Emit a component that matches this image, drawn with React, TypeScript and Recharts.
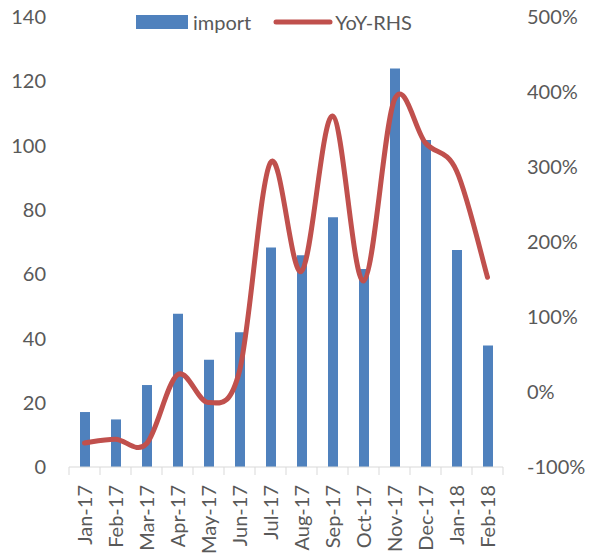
import { ComposedChart, Bar, Line, XAxis, YAxis } from 'recharts'

const months = ['Jan-17', 'Feb-17', 'Mar-17', 'Apr-17', 'May-17', 'Jun-17', 'Jul-17', 'Aug-17', 'Sep-17', 'Oct-17', 'Nov-17', 'Dec-17', 'Jan-18', 'Feb-18']
const importVals = [17.1, 14.8, 25.5, 47.7, 33.4, 41.9, 68.3, 65.9, 77.7, 61.6, 124, 101.7, 67.5, 37.8]
const yoyVals = [-0.68, -0.63, -0.69, 0.23, -0.14, 0.28, 3.06, 1.61, 3.68, 1.48, 3.9, 3.32, 2.95, 1.53]
const leftTicks = [0, 20, 40, 60, 80, 100, 120, 140]
const rightTicks = [-1, 0, 1, 2, 3, 4, 5]

const data = months.map((m, i) => ({ month: m, import: importVals[i], yoy: yoyVals[i] }))

const W = 595
const H = 558
const M = { top: 17, right: 0, bottom: 0, left: 0 }
const LEFT_W = 69
const RIGHT_W = 92
const AXIS_Y = 467
const PLOT_W = W - LEFT_W - RIGHT_W
const FONT = 'Lato, "Liberation Sans", sans-serif'
const TXT = '#595959'

// smooth line like Excel's (catmull-rom through the points)
// eslint-disable-next-line @typescript-eslint/no-explicit-any
const excelSmooth = (ctx: any) => {
  let pts: number[][] = []
  return {
    areaStart() {},
    areaEnd() {},
    lineStart() { pts = [] },
    point(x: number, y: number) { pts.push([+x, +y]) },
    lineEnd() {
      if (!pts.length) return
      ctx.moveTo(pts[0][0], pts[0][1])
      for (let i = 0; i < pts.length - 1; i++) {
        const p0 = pts[i - 1] || pts[i]
        const p1 = pts[i]
        const p2 = pts[i + 1]
        const p3 = pts[i + 2] || p2
        ctx.bezierCurveTo(
          p1[0] + (p2[0] - p0[0]) / 6, p1[1] + (p2[1] - p0[1]) / 6,
          p2[0] - (p3[0] - p1[0]) / 6, p2[1] - (p3[1] - p1[1]) / 6,
          p2[0], p2[1],
        )
      }
    },
  }
}

// eslint-disable-next-line @typescript-eslint/no-explicit-any
const MonthTick = (props: any) => {
  const { x, y, payload, index } = props
  const band = PLOT_W / months.length
  const axisY = y
  const ty = axisY + 18
  return (
    <g>
      <line x1={x - band / 2} y1={axisY} x2={x - band / 2} y2={axisY + 8} stroke="#d9d9d9" />
      {index === months.length - 1 && (
        <line x1={x + band / 2} y1={axisY} x2={x + band / 2} y2={axisY + 8} stroke="#d9d9d9" />
      )}
      <text
        x={x}
        y={ty}
        transform={`rotate(-90, ${x}, ${ty})`}
        textAnchor="end"
        dy="0.36em"
        fill={TXT}
        fontSize={20}
        fontFamily={FONT}
      >
        {payload.value}
      </text>
    </g>
  )
}

export default function App() {
  return (
    <div style={{ position: 'absolute', left: 0, top: 0, width: W, height: H, background: '#fff' }}>
      <ComposedChart width={W} height={H} data={data} margin={M}>
        <XAxis
          dataKey="month"
          axisLine={{ stroke: '#d9d9d9' }}
          tickLine={false}
          tickSize={0}
          tickMargin={0}
          interval={0}
          height={H - AXIS_Y}
          tick={<MonthTick />}
        />
        <YAxis
          yAxisId="left"
          domain={[0, 140]}
          ticks={leftTicks}
          width={LEFT_W}
          axisLine={false}
          tickLine={false}
          tickSize={0}
          tickMargin={23}
          tick={{ fill: TXT, fontSize: 20, fontFamily: FONT }}
        />
        <YAxis
          yAxisId="right"
          orientation="right"
          domain={[-1, 5]}
          ticks={rightTicks}
          width={RIGHT_W}
          axisLine={false}
          tickLine={false}
          tickSize={0}
          tickMargin={24}
          tickFormatter={(v: number) => `${Math.round(v * 100)}%`}
          tick={{ fill: TXT, fontSize: 20, fontFamily: FONT }}
        />
        <Bar yAxisId="left" dataKey="import" fill="#4f81bd" barSize={10} isAnimationActive={false} />
        <Line
          yAxisId="right"
          dataKey="yoy"
          type={excelSmooth}
          stroke="#c0504d"
          strokeWidth={5}
          strokeLinecap="round"
          dot={false}
          activeDot={false}
          isAnimationActive={false}
        />
      </ComposedChart>
      <div style={{ position: 'absolute', left: 136, top: 10, display: 'flex', alignItems: 'center', fontFamily: FONT, fontSize: 20, color: TXT, whiteSpace: 'nowrap' }}>
        <span style={{ display: 'inline-block', width: 52, height: 14, background: '#4f81bd', marginRight: 5 }} />
        <span>import</span>
        <svg width={60} height={10} style={{ marginLeft: 22, marginRight: 2 }}>
          <line x1={3} y1={5} x2={57} y2={5} stroke="#c0504d" strokeWidth={5} strokeLinecap="round" />
        </svg>
        <span>YoY-RHS</span>
      </div>
    </div>
  )
}
